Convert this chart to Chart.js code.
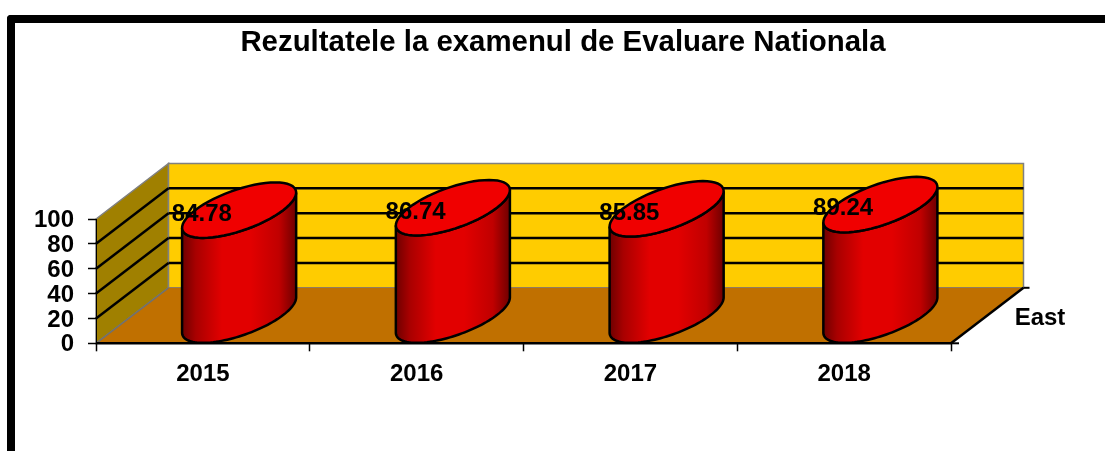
<!DOCTYPE html>
<html>
<head>
<meta charset="utf-8">
<script src="https://cdn.jsdelivr.net/npm/chart.js@4"></script>
<style>
  html, body { margin: 0; padding: 0; background: #fff; overflow: hidden; }
  #frame {
    position: absolute; left: 7px; top: 15px; width: 1098px; height: 436px; box-sizing: border-box;
    border-left: 8px solid #000; border-top: 8px solid #000; border-top-left-radius: 4px;
  }
  #wrap { position: absolute; left: 0; top: 0; width: 1105px; height: 451px; }
</style>
</head>
<body>
<div id="frame"></div>
<div id="wrap"><canvas id="chart" width="1105" height="451"></canvas></div>
<script>
const categories = ["2015", "2016", "2017", "2018"]
const values = [84.78, 86.74, 85.85, 89.24]
const yTicks = [0, 20, 40, 60, 80, 100]
const titleText = "Rezultatele la examenul de Evaluare Nationala"
const seriesName = "East"

// how far the back wall sits from the front plane
const depthX = 72.5
const depthY = -55.5
const labelFont = "bold 24px 'Liberation Sans', Arial, sans-serif"

function drawPoly(ctx, pts, fill, stroke, lw) {
  ctx.beginPath()
  pts.forEach((p, i) => i ? ctx.lineTo(p[0], p[1]) : ctx.moveTo(p[0], p[1]))
  ctx.closePath()
  ctx.fillStyle = fill
  ctx.fill()
  if (stroke) {
    ctx.strokeStyle = stroke
    ctx.lineWidth = lw || 1
    ctx.stroke()
  }
}

function line(ctx, x1, y1, x2, y2, color, lw) {
  ctx.beginPath()
  ctx.moveTo(x1, y1)
  ctx.lineTo(x2, y2)
  ctx.strokeStyle = color
  ctx.lineWidth = lw
  ctx.stroke()
}

// walls and floor, behind the axes
const box3d = {
  id: "box3d",
  beforeDraw(chart) {
    const {ctx, chartArea: a, scales} = chart
    const bx = depthX, by = depthY
    ctx.save()
    drawPoly(ctx, [[a.left, a.top], [a.left + bx, a.top + by], [a.left + bx, a.bottom + by], [a.left, a.bottom]], "#A08000", "#808080", 1.5)
    drawPoly(ctx, [[a.left + bx, a.top + by], [a.right + bx, a.top + by], [a.right + bx, a.bottom + by], [a.left + bx, a.bottom + by]], "#FFCC00", "#808080", 1.5)
    drawPoly(ctx, [[a.left, a.bottom], [a.left + bx, a.bottom + by], [a.right + bx, a.bottom + by], [a.right, a.bottom]], "#C07000")
    line(ctx, a.left, a.bottom, a.left + bx, a.bottom + by, "#707070", 1.5)
    yTicks.slice(1, -1).forEach(t => {
      const y = scales.y.getPixelForValue(t)
      line(ctx, a.left, y, a.left + bx, y + by, "#000", 2.5)
      line(ctx, a.left + bx, y + by, a.right + bx, y + by, "#000", 2.5)
    })
    line(ctx, a.left, a.bottom, a.right, a.bottom, "#000", 2.5)
    line(ctx, a.right, a.bottom, a.right + bx, a.bottom + by, "#000", 2.5)
    line(ctx, a.right, a.bottom, a.right + 8, a.bottom, "#000", 2)
    line(ctx, a.right + bx, a.bottom + by, a.right + bx + 6, a.bottom + by, "#000", 2)
    ctx.restore()
  }
}

// a round base in the skewed floor: half width along x, half depth along the depth axis
function cylinderRim(ctx, cx, cy, halfW, from, to) {
  const steps = 60
  for (let i = 0; i <= steps; i++) {
    const t = from + (to - from) * i / steps
    const px = cx + halfW * Math.cos(t) + depthX / 2 * Math.sin(t)
    const py = cy + depthY / 2 * Math.sin(t)
    ctx.lineTo(px, py)
  }
}

const cylinders = {
  id: "cylinders",
  afterDatasetsDraw(chart) {
    const {ctx} = chart
    const bars = chart.getDatasetMeta(0).data
    ctx.save()
    bars.forEach(bar => {
      const halfW = bar.width / 2
      const cx = bar.x + depthX / 2
      const topY = bar.y + depthY / 2
      const baseY = bar.base + depthY / 2
      // parameter where the outline of the sheared circle is widest
      const s = Math.atan2(depthX / 2, halfW)
      const reach = Math.hypot(depthX / 2, halfW)

      const g = ctx.createLinearGradient(cx - reach, 0, cx + reach, 0)
      g.addColorStop(0, "#6E0000")
      g.addColorStop(0.12, "#A80000")
      g.addColorStop(0.35, "#E20000")
      g.addColorStop(0.6, "#E20000")
      g.addColorStop(0.85, "#C00000")
      g.addColorStop(1, "#6E0000")

      ctx.beginPath()
      ctx.moveTo(cx + reach, topY + depthY / 2 * Math.sin(s))
      cylinderRim(ctx, cx, baseY, halfW, s, s - Math.PI)
      cylinderRim(ctx, cx, topY, halfW, s - Math.PI, s)
      ctx.closePath()
      ctx.fillStyle = g
      ctx.fill()
      ctx.strokeStyle = "#000"
      ctx.lineWidth = 2.5
      ctx.stroke()

      ctx.beginPath()
      cylinderRim(ctx, cx, topY, halfW, 0, Math.PI * 2)
      ctx.closePath()
      ctx.fillStyle = "#F00000"
      ctx.fill()
      ctx.stroke()
    })

    // value labels, title and the depth axis label
    ctx.fillStyle = "#000"
    ctx.textAlign = "center"
    ctx.textBaseline = "middle"
    ctx.font = labelFont
    bars.forEach((bar, i) => ctx.fillText(values[i].toFixed(2), bar.x - 1, bar.y - 23.5))
    ctx.fillText(seriesName, 1040, 318)
    ctx.font = "bold 29.4px 'Liberation Sans', Arial, sans-serif"
    ctx.fillText(titleText, 563, 43)
    ctx.restore()
  }
}

new Chart(document.getElementById("chart"), {
  type: "bar",
  data: {
    labels: categories,
    datasets: [{
      label: seriesName,
      data: values,
      backgroundColor: "transparent",
      barPercentage: 0.412,
      categoryPercentage: 1
    }]
  },
  plugins: [box3d, cylinders],
  options: {
    responsive: false,
    animation: false,
    layout: { padding: { left: 0, right: 154, top: 219, bottom: 0 } },
    plugins: {
      legend: { display: false },
      title: { display: false },
      tooltip: { enabled: false }
    },
    scales: {
      x: {
        afterFit(scale) { scale.height = 107.7 },
        border: { color: "#000", width: 0 },
        grid: { drawOnChartArea: false, tickColor: "#000", tickLength: 8, tickWidth: 1.5 },
        ticks: { color: "#000", font: { family: "'Liberation Sans', Arial, sans-serif", size: 24, weight: "bold" }, padding: 9 }
      },
      y: {
        min: 0,
        max: 100,
        afterFit(scale) { scale.width = 96 },
        border: { color: "#000", width: 1 },
        grid: { drawOnChartArea: false, tickColor: "#000", tickLength: 8, tickWidth: 1.5 },
        ticks: { stepSize: 20, autoSkip: false, labelOffset: 1.5, color: "#000", font: { family: "'Liberation Sans', Arial, sans-serif", size: 24, weight: "bold" }, padding: 14 }
      }
    }
  }
})
</script>
</body>
</html>
